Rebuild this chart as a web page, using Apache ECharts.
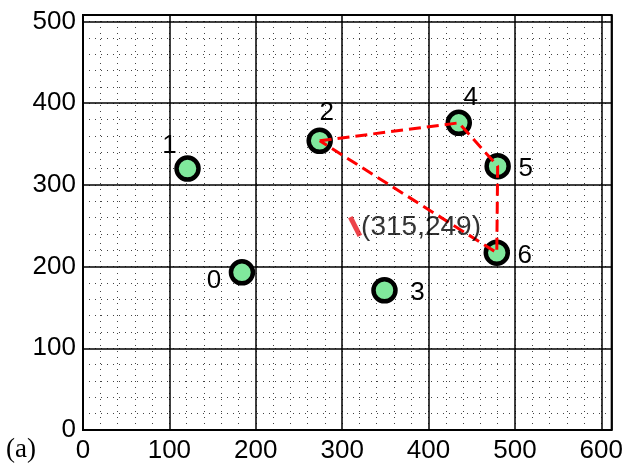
<!DOCTYPE html>
<html>
<head>
<meta charset="utf-8">
<script src="https://cdn.jsdelivr.net/npm/echarts@6/dist/echarts.min.js"></script>
<style>
	html, body { margin: 0; padding: 0; background: #fff; }
	#chart { width: 626px; height: 464px; }
</style>
</head>
<body>
<div id="chart"></div>
<script>
	// node positions
	const nodeNames = ['0', '1', '2', '3', '4', '5', '6']
	const nodeX = [184, 121, 274, 349, 435, 480, 479]
	const nodeY = [193, 320, 354, 171, 376, 323, 217]
	// dashed polygon 2 -> 4 -> 5 -> 6 -> 2
	const pathOrder = [2, 4, 5, 6, 2]
	// marked point
	const markPoint = [315, 249]
	const markText = '(315,249)'
	// label offsets from node centre (px)
	const labelOffsets = [[-28, 8], [-18, -23], [7, -28], [33, 3], [12, -25], [28, 3], [28, 3]]

	const xMax = 612
	const yMax = 508
	const font = 'Liberation Sans, Arial, sans-serif'

	const chart = echarts.init(document.getElementById('chart'))

	const hideOdd = v => (v % 100 === 0 ? String(v) : '')

	const majorAxis = {
		type: 'value',
		min: 0,
		interval: 100,
		axisLine: { show: false },
		axisTick: { show: false },
		axisLabel: { color: '#000', fontSize: 26, fontFamily: font, formatter: hideOdd },
		splitLine: { show: true, lineStyle: { color: '#000', width: 1.5 } },
		z: 2
	}
	const minorAxis = {
		type: 'value',
		min: 0,
		interval: 20,
		axisLine: { show: false },
		axisTick: { show: false },
		axisLabel: { show: false },
		splitLine: { show: true, lineStyle: { color: '#444', width: 1, type: [1, 5] } },
		z: 1
	}

	chart.setOption({
		animation: false,
		backgroundColor: '#fff',
		title: {
			text: '(a)',
			left: 1,
			top: 431,
			textStyle: { color: '#000', fontSize: 27, fontWeight: 'normal', fontFamily: 'Liberation Serif, Times New Roman, serif' }
		},
		grid: {
			left: 83,
			right: 12,
			top: 15,
			bottom: 32,
			show: true,
			borderColor: '#000',
			borderWidth: 2,
			z: 3
		},
		xAxis: [
			Object.assign({}, majorAxis, { max: xMax, position: 'bottom', axisLabel: Object.assign({}, majorAxis.axisLabel, { margin: 8 }) }),
			Object.assign({}, minorAxis, { max: xMax, position: 'top' })
		],
		yAxis: [
			Object.assign({}, majorAxis, { max: yMax, position: 'left', axisLabel: Object.assign({}, majorAxis.axisLabel, { margin: 7 }) }),
			Object.assign({}, minorAxis, { max: yMax, position: 'right' })
		],
		series: [{
			name: 'nodes',
			type: 'scatter',
			symbol: 'circle',
			symbolSize: 22,
			z: 4,
			itemStyle: { color: '#80e89c', borderColor: '#000', borderWidth: 4.5, opacity: 1 },
			label: {
				show: true,
				position: 'inside',
				color: '#000',
				fontSize: 26,
				fontFamily: font,
				formatter: p => p.name
			},
			data: nodeNames.map((n, i) => ({
				name: n,
				value: [nodeX[i], nodeY[i]],
				label: { offset: labelOffsets[i] }
			}))
		}, {
			name: 'path',
			type: 'line',
			symbol: 'none',
			z: 5,
			lineStyle: { color: '#f00', width: 3, type: [12, 6] },
			data: pathOrder.map(i => [nodeX[i], nodeY[i]])
		}, {
			name: 'mark',
			type: 'scatter',
			symbol: 'rect',
			symbolSize: [5, 21],
			symbolRotate: 27,
			z: 5,
			itemStyle: { color: '#e8141c' },
			label: {
				show: true,
				position: 'inside',
				align: 'left',
				offset: [6, 1],
				color: '#000',
				fontSize: 28,
				fontFamily: font,
				formatter: markText
			},
			data: [markPoint]
		}]
	})
</script>
</body>
</html>
